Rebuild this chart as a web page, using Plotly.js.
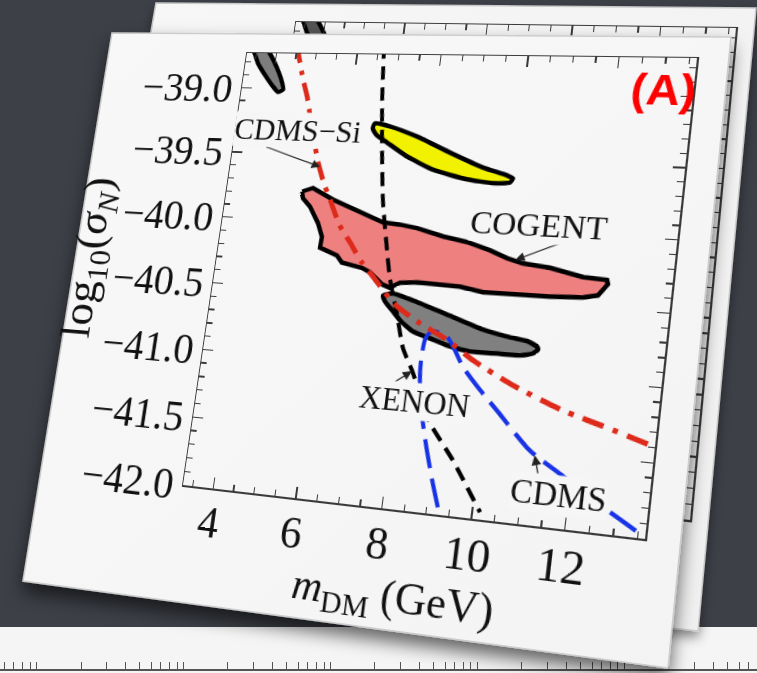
<!DOCTYPE html>
<html>
<head>
<meta charset="utf-8">
<script src="https://cdn.plot.ly/plotly-3.0.1.min.js"></script>
<style>
  html, body { margin: 0; padding: 0; width: 757px; height: 673px; overflow: hidden; background: #3d4047; }
  .abs { position: absolute; left: 0; top: 0; }
  #strip { position: absolute; left: 0; top: 627px; width: 757px; height: 46px; background: #f5f5f5; overflow: hidden; }
  #stripChart { position: absolute; left: 0; top: 0; }
  #backChart, #frontChart { position: absolute; left: 0; top: 0; transform-origin: 0 0; }
</style>
</head>
<body>

<div id="strip"><div id="stripChart"></div></div>

<svg class="abs" width="757" height="673">
  <defs>
    <filter id="shadowBack" x="-20%" y="-20%" width="140%" height="140%">
      <feDropShadow dx="0" dy="6" stdDeviation="6" flood-color="#000" flood-opacity="0.45"/>
    </filter>
    <linearGradient id="paperBack" x1="0" y1="0" x2="1" y2="1">
      <stop offset="0" stop-color="#f7f7f7"/>
      <stop offset="1" stop-color="#efefef"/>
    </linearGradient>
  </defs>
  <polygon id="backCard" points="" fill="url(#paperBack)" stroke="#c9c9c9" stroke-width="1.5" filter="url(#shadowBack)"/>
</svg>

<div id="backChart"></div>

<svg class="abs" width="757" height="673">
  <defs>
    <filter id="shadowFront" x="-20%" y="-20%" width="140%" height="140%">
      <feDropShadow dx="0" dy="10" stdDeviation="9" flood-color="#000" flood-opacity="0.6"/>
    </filter>
    <linearGradient id="paperFront" x1="0" y1="0" x2="1" y2="1">
      <stop offset="0" stop-color="#f8f8f8"/>
      <stop offset="0.5" stop-color="#f6f6f6"/>
      <stop offset="1" stop-color="#f3f3f3"/>
    </linearGradient>
  </defs>
  <polygon id="frontCard" points="" fill="url(#paperFront)" stroke="#cccccc" stroke-width="1.5" filter="url(#shadowFront)"/>
</svg>

<div id="frontChart"></div>

<script>
// ---- data: dark-matter mass (GeV) vs log10 of the nucleon cross-section ----

// gray region at the top-left corner (cut by the frame)
const topBlobX = [3.35, 3.44, 3.59, 3.83, 4.06, 4.24, 4.30, 4.18, 4.04, 3.79, 3.57, 3.46];
const topBlobY = [-38.67, -38.64, -38.65, -38.73, -38.84, -38.95, -39.01, -39.03, -38.99, -38.90, -38.81, -38.74];

// yellow region
const yellowX = [6.65, 7.02, 7.69, 8.50, 9.29, 9.85, 9.99, 9.94, 9.56, 8.97, 8.16, 7.52, 7.00, 6.74, 6.62];
const yellowY = [-39.25, -39.27, -39.34, -39.45, -39.55, -39.60, -39.62, -39.65, -39.66, -39.64, -39.58, -39.49, -39.39, -39.34, -39.29];

// CoGeNT region
const cogentX = [5.13, 5.38, 5.90, 6.33, 6.76, 7.16, 7.56, 7.97, 8.59, 9.14, 9.68, 10.08, 10.44, 11.04, 11.77, 12.28, 12.31, 12.22, 12.13, 11.82, 11.11, 10.39, 9.64, 9.11, 8.49, 8.13, 7.74, 7.52, 7.33, 7.20, 7.02, 6.81, 6.52, 6.32, 6.18, 6.00, 5.75, 5.76, 5.62, 5.37, 5.17];
const cogentY = [-39.78, -39.75, -39.83, -39.88, -39.93, -39.98, -39.99, -40.01, -40.06, -40.09, -40.14, -40.19, -40.22, -40.24, -40.29, -40.30, -40.33, -40.37, -40.41, -40.43, -40.44, -40.44, -40.44, -40.41, -40.40, -40.40, -40.41, -40.45, -40.43, -40.40, -40.35, -40.32, -40.30, -40.29, -40.24, -40.22, -40.19, -40.11, -40.01, -39.89, -39.83];

// dark gray region below CoGeNT
const grayX = [7.39, 7.61, 8.19, 8.97, 9.74, 10.35, 10.76, 10.96, 10.99, 10.89, 10.62, 10.12, 9.52, 8.99, 8.59, 8.18, 7.86, 7.64, 7.45];
const grayY = [-40.51, -40.49, -40.54, -40.62, -40.70, -40.74, -40.76, -40.79, -40.81, -40.84, -40.86, -40.86, -40.86, -40.83, -40.79, -40.75, -40.68, -40.61, -40.55];

// CDMS-Si limit (red dash-dot)
const cdmsSiX = [4.48, 4.76, 4.92, 5.16, 5.42, 5.64, 5.83, 6.15, 6.45, 6.79, 7.10, 7.43, 7.74, 8.32, 8.97, 9.61, 10.55, 11.67, 12.76, 13.59];
const cdmsSiY = [-38.66, -38.93, -39.06, -39.31, -39.56, -39.72, -39.83, -40.02, -40.14, -40.28, -40.38, -40.49, -40.58, -40.69, -40.79, -40.92, -41.07, -41.21, -41.31, -41.39];

// XENON limit (black dashed)
const xenonX = [6.62, 6.75, 6.91, 7.09, 7.34, 7.50, 7.77, 8.00, 8.30, 8.59, 8.83, 9.44, 10.17];
const xenonY = [-38.66, -39.07, -39.45, -39.82, -40.18, -40.39, -40.64, -40.87, -41.04, -41.23, -41.38, -41.62, -41.95];

// CDMS limit (blue long dashes)
const cdmsX = [9.24, 9.04, 8.84, 8.67, 8.49, 8.45, 8.48, 8.57, 8.70, 8.97, 9.18, 9.40, 9.84, 10.26, 11.07, 11.84, 12.82, 13.54];
const cdmsY = [-41.95, -41.77, -41.57, -41.38, -41.11, -40.95, -40.80, -40.75, -40.74, -40.77, -40.86, -40.97, -41.12, -41.25, -41.50, -41.65, -41.84, -41.97];

// axes
const xRange = [3.25, 13.65];
const yRange = [-42.0, -38.73];
const xTickVals = [4, 6, 8, 10, 12];
const xTickText = ['4', '6', '8', '10', '12'];
const yTickVals = [-42.0, -41.5, -41.0, -40.5, -40.0, -39.5, -39.0];
const yTickText = ['\u221242.0', '\u221241.5', '\u221241.0', '\u221240.5', '\u221240.0', '\u221239.5', '\u221239.0'];

// ---- page geometry: the slides are tilted sheets ----
const frontCardQuad = [[112, 33], [731, 37], [668, 668], [23, 581]];
const backCardQuad = [[156, 3], [756, 8], [698, 631], [60, 560]];
const frontFrameQuad = [[247, 53], [697, 58], [645, 539], [183, 485]];
const backFrameQuad = [[296, 22], [736, 28], [690, 520], [232, 470]];

const cardColor = '#f6f6f6';
const serif = 'Liberation Serif, Times New Roman, serif';
const axisColor = '#3a3a3a';

function closed(a) { return a.concat([a[0]]); }

function squareToQuad(q) {
  const [x0, y0] = q[0], [x1, y1] = q[1], [x2, y2] = q[2], [x3, y3] = q[3];
  const dx1 = x1 - x2, dx2 = x3 - x2, dx3 = x0 - x1 + x2 - x3;
  const dy1 = y1 - y2, dy2 = y3 - y2, dy3 = y0 - y1 + y2 - y3;
  const den = dx1 * dy2 - dx2 * dy1;
  const g = (dx3 * dy2 - dx2 * dy3) / den;
  const h = (dx1 * dy3 - dx3 * dy1) / den;
  return [
    [x1 - x0 + g * x1, x3 - x0 + h * x3, x0],
    [y1 - y0 + g * y1, y3 - y0 + h * y3, y0],
    [g, h, 1]
  ];
}

function mul(A, B) {
  const C = [[0, 0, 0], [0, 0, 0], [0, 0, 0]];
  for (let i = 0; i < 3; i++) for (let j = 0; j < 3; j++)
    for (let k = 0; k < 3; k++) C[i][j] += A[i][k] * B[k][j];
  return C;
}

// map a chart's plot rectangle onto a screen quadrilateral
function warp(id, quad) {
  const el = document.getElementById(id);
  const s = el._fullLayout._size;
  const S = [[1 / s.w, 0, -s.l / s.w], [0, 1 / s.h, -s.t / s.h], [0, 0, 1]];
  const M = mul(squareToQuad(quad), S);
  el.style.transform = 'matrix3d(' + [
    M[0][0], M[1][0], 0, M[2][0],
    M[0][1], M[1][1], 0, M[2][1],
    0, 0, 1, 0,
    M[0][2], M[1][2], 0, M[2][2]
  ].join(',') + ')';
}

document.getElementById('frontCard').setAttribute('points', frontCardQuad.map(p => p.join(',')).join(' '));
document.getElementById('backCard').setAttribute('points', backCardQuad.map(p => p.join(',')).join(' '));

function axisStyle(extra) {
  return Object.assign({
    showline: true, linecolor: axisColor, linewidth: 1.5, mirror: 'ticks',
    ticks: 'inside', ticklen: 11, tickwidth: 1.3, tickcolor: axisColor,
    showgrid: false, zeroline: false,
    tickfont: { family: serif, size: 44, color: '#111' }
  }, extra);
}

function regionTrace(xs, ys, fill, shape) {
  return {
    x: closed(xs), y: closed(ys), type: 'scatter', mode: 'lines',
    fill: 'toself', fillcolor: fill,
    line: { color: '#000', width: 4.5, shape: shape || 'spline', smoothing: 0.5 },
    hoverinfo: 'skip'
  };
}

function curveTrace(xs, ys, color, width, dash) {
  return {
    x: xs, y: ys, type: 'scatter', mode: 'lines',
    line: { color: color, width: width, dash: dash, shape: 'spline', smoothing: 0.6 },
    hoverinfo: 'skip'
  };
}

// ---- front slide: panel (A) ----
const annFont = { family: serif, size: 31, color: '#111' };
function arrow(x, y, ax, ay) {
  return { x: x, y: y, ax: ax, ay: ay, axref: 'x', ayref: 'y', text: '',
           showarrow: true, arrowhead: 2, arrowsize: 1.5, arrowwidth: 1.2, arrowcolor: '#222' };
}
function label(x, y, text, size) {
  return { x: x, y: y, text: text, showarrow: false, bgcolor: cardColor, borderpad: 0,
           font: Object.assign({}, annFont, { size: size || annFont.size }) };
}

const frontTraces = [
  regionTrace(topBlobX, topBlobY, '#7d7d7d'),
  regionTrace(yellowX, yellowY, '#f2f200'),
  regionTrace(cogentX, cogentY, '#ef8080', 'linear'),
  regionTrace(grayX, grayY, '#808080'),
  curveTrace(xenonX, xenonY, '#000000', 4, '14px,8px'),
  curveTrace(cdmsX, cdmsY, '#1832e6', 4, '28px,10px'),
  curveTrace(cdmsSiX, cdmsSiY, '#dd2a1a', 5, '20px,9px,5px,9px')
];

const frontLayout = {
  width: 650, height: 600,
  margin: { l: 175, r: 25, t: 20, b: 130 },
  paper_bgcolor: 'rgba(0,0,0,0)', plot_bgcolor: 'rgba(0,0,0,0)',
  showlegend: false,
  xaxis: axisStyle({
    range: xRange, tickmode: 'array', tickvals: xTickVals, ticktext: xTickText,
    minor: { tick0: 0, dtick: 0.5, ticks: 'inside', ticklen: 6, tickcolor: axisColor },
    automargin: true, ticklabelstandoff: -6,
    title: { text: '<i>m</i><sub>DM</sub> (GeV)', standoff: 0, font: { family: serif, size: 42, color: '#111' } }
  }),
  yaxis: axisStyle({
    range: yRange, tickmode: 'array', tickvals: yTickVals, ticktext: yTickText,
    minor: { tick0: 0, dtick: 0.1, ticks: 'inside', ticklen: 6, tickcolor: axisColor },
    automargin: true,
    title: { text: 'log<sub>10</sub>(<i>σ<sub>N</sub></i>)', standoff: 0, font: { family: serif, size: 48, color: '#111' } }
  }),
  annotations: [
    arrow(5.48, -39.59, 4.05, -39.45),
    arrow(10.26, -40.20, 11.36, -40.04),
    arrow(8.28, -41.03, 7.82, -41.14),
    arrow(11.19, -41.53, 11.34, -41.69),
    label(4.79, -39.32, 'CDMS\u2212Si', 32),
    label(10.67, -39.94, 'COGENT', 32),
    label(8.41, -41.24, 'XENON', 31),
    label(11.77, -41.78, 'CDMS', 31),
    { xref: 'paper', yref: 'paper', x: 0.939, y: 0.930, xanchor: 'center', yanchor: 'middle',
      text: '<b>(A)</b>', showarrow: false,
      font: { family: 'Liberation Sans, Arial, sans-serif', size: 43, color: '#ff0000' } }
  ]
};

// ---- back slide: only its top strip shows ----
const backLayout = {
  width: 650, height: 600,
  margin: { l: 175, r: 25, t: 20, b: 130 },
  paper_bgcolor: 'rgba(0,0,0,0)', plot_bgcolor: 'rgba(0,0,0,0)',
  showlegend: false,
  xaxis: axisStyle({ range: xRange, tickmode: 'array', tickvals: xTickVals, showticklabels: false,
    minor: { tick0: 0, dtick: 0.5, ticks: 'inside', ticklen: 6, tickcolor: axisColor } }),
  yaxis: axisStyle({ range: yRange, tickmode: 'array', tickvals: yTickVals, showticklabels: false,
    minor: { tick0: 0, dtick: 0.1, ticks: 'inside', ticklen: 6, tickcolor: axisColor } })
};
const backTraces = [regionTrace(topBlobX, topBlobY, '#555555')];

// ---- lower slide: its axis line peeks out at the bottom ----
const stripLayout = {
  width: 757, height: 100,
  margin: { l: 0, r: 0, t: 5, b: 58 },
  paper_bgcolor: 'rgba(0,0,0,0)', plot_bgcolor: 'rgba(0,0,0,0)',
  showlegend: false,
  xaxis: { type: 'log', range: [-0.25, 4.9], dtick: 'D1', showticklabels: false, showline: true,
           linecolor: '#555', linewidth: 1.5, ticks: 'inside', ticklen: 7, tickcolor: '#555',
           showgrid: false, zeroline: false },
  yaxis: { range: [0, 1], visible: false }
};

const cfg = { staticPlot: true, displayModeBar: false };

Promise.all([
  Plotly.newPlot('stripChart', [{ x: [1], y: [-1], type: 'scatter', mode: 'lines', hoverinfo: 'skip' }], stripLayout, cfg),
  Plotly.newPlot('backChart', backTraces, backLayout, cfg),
  Plotly.newPlot('frontChart', frontTraces, frontLayout, cfg)
]).then(() => {
  warp('backChart', backFrameQuad);
  warp('frontChart', frontFrameQuad);
});
</script>
</body>
</html>
